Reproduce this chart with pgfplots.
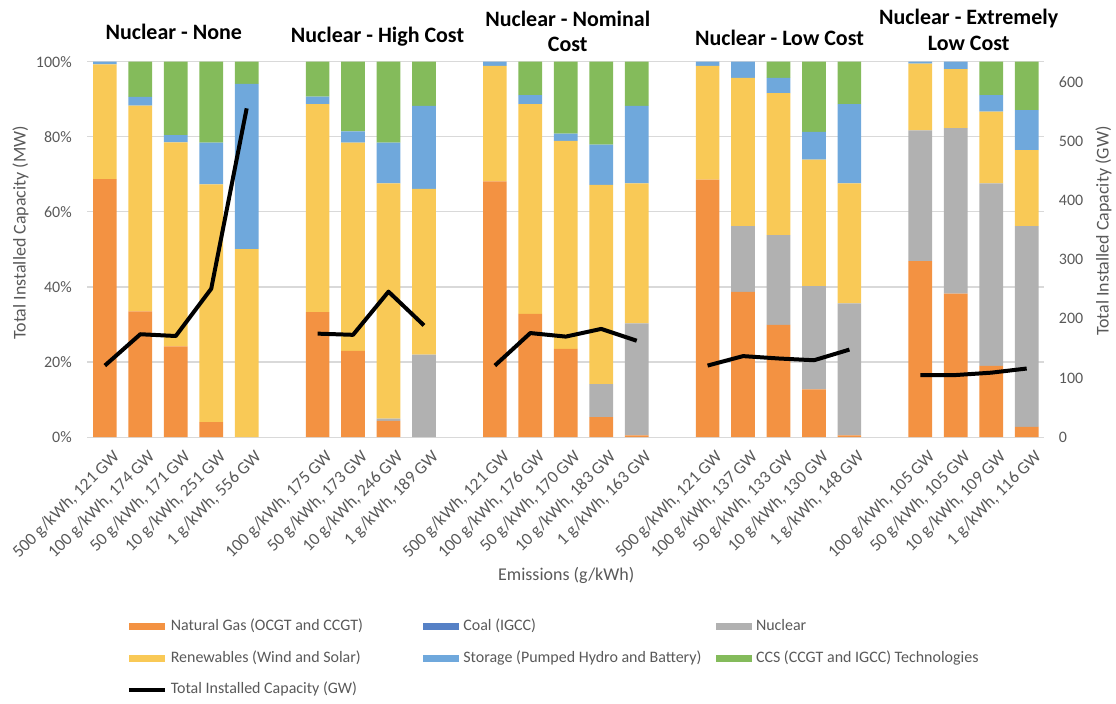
\documentclass[border=0pt]{standalone}
\usepackage{fontspec}
\setmainfont{Carlito}
\usepackage{pgfplots}
\usepackage{pgfplotstable}
\pgfplotsset{compat=1.18}

\definecolor{cNG}{HTML}{F39242}
\definecolor{cCoal}{HTML}{5681C6}
\definecolor{cNuc}{HTML}{B1B1B1}
\definecolor{cRen}{HTML}{F9C956}
\definecolor{cSto}{HTML}{6FA8DC}
\definecolor{cCCS}{HTML}{84BB5B}
\definecolor{txt}{HTML}{595959}
\definecolor{gridc}{HTML}{D9D9D9}

% share of installed capacity (%), x = slot on the axis (gaps between groups)
\pgfplotstableread{
x  ng   coal nuc  ren  sto  ccs
0  68.7 0 0    30.6 0.7  0
1  33.5 0 0    54.8 2.3  9.4
2  24.2 0 0    54.3 1.9  19.6
3  4.0  0 0    63.3 11.1 21.6
4  0    0 0    50.1 44.0 5.9
6  33.3 0 0    55.4 2.0  9.3
7  23.0 0 0    55.4 3.0  18.6
8  4.3  0 0.6  62.7 10.8 21.6
9  0    0 22.0 44.1 22.1 11.8
11 68.1 0 0    30.8 1.1  0
12 32.8 0 0    55.9 2.4  8.9
13 23.5 0 0    55.4 1.9  19.2
14 5.3  0 8.8  53.1 10.7 22.1
15 0.5  0 29.8 37.3 20.6 11.8
17 68.6 0 0    30.3 1.1  0
18 38.7 0 17.5 39.5 4.3  0
19 29.9 0 23.9 37.8 4.1  4.3
20 12.7 0 27.5 33.7 7.4  18.7
21 0.5  0 35.1 32.0 21.1 11.3
23 46.9 0 34.8 17.8 0.5  0
24 38.2 0 44.1 15.7 2.0  0
25 19.0 0 48.6 19.1 4.4  8.9
26 2.7  0 53.5 20.2 10.7 12.9
}\shares

% total installed capacity (GW), nan breaks the line between groups
\pgfplotstableread{
x  tot
0  121
1  174
2  171
3  251
4  556
5  nan
6  175
7  173
8  246
9  189
10 nan
11 121
12 176
13 170
14 183
15 163
16 nan
17 121
18 137
19 133
20 130
21 148
22 nan
23 105
24 105
25 109
26 116
}\totals

\pgfplotsset{
  sw/.style={legend image code/.code={\path[##1,draw=none] (0pt,-2.6pt) rectangle (27pt,2.6pt);}},
  lw/.style={legend image code/.code={\draw[##1] (0pt,0pt) -- (27pt,0pt);}},
}

\begin{document}
\begin{tikzpicture}
% page = 1116 x 704 px at 0.75pt per px, axis box lower left at px (87.25, 437.7)
\begin{scope}[x=0.75pt,y=-0.75pt,shift={(-65.44pt,328.28pt)}]
  \path[use as bounding box] (0,0) rectangle (1116,704);
\end{scope}

\begin{axis}[
  width=718.9pt, height=282pt, scale only axis,
  ybar stacked, bar width=0.667,
  xmin=-0.5, xmax=26.5, ymin=0, ymax=100,
  axis line style={draw=none},
  major tick length=0pt,
  ymajorgrids, grid style={gridc, line width=0.9pt},
  ytick={0,20,40,60,80,100},
  yticklabels={0\%,20\%,40\%,60\%,80\%,100\%},
  yticklabel style={inner sep=0pt, xshift=-11.4pt, text=txt, font=\fontsize{12}{14}\selectfont},
  xtick={0,1,2,3,4,6,7,8,9,11,12,13,14,15,17,18,19,20,21,23,24,25,26},
  xticklabels={
    {500 g/kWh, 121 GW},{100 g/kWh, 174 GW},{50 g/kWh, 171 GW},{10 g/kWh, 251 GW},{1 g/kWh, 556 GW},
    {100 g/kWh, 175 GW},{50 g/kWh, 173 GW},{10 g/kWh, 246 GW},{1 g/kWh, 189 GW},
    {500 g/kWh, 121 GW},{100 g/kWh, 176 GW},{50 g/kWh, 170 GW},{10 g/kWh, 183 GW},{1 g/kWh, 163 GW},
    {500 g/kWh, 121 GW},{100 g/kWh, 137 GW},{50 g/kWh, 133 GW},{10 g/kWh, 130 GW},{1 g/kWh, 148 GW},
    {100 g/kWh, 105 GW},{50 g/kWh, 105 GW},{10 g/kWh, 109 GW},{1 g/kWh, 116 GW}},
  xticklabel style={rotate=45, anchor=east, inner sep=0pt, xshift=-2.5pt, yshift=-15.5pt, text=txt, font=\fontsize{13}{15}\selectfont},
  legend columns=3,
  legend style={draw=none, fill=none, inner sep=0pt, outer sep=0pt,
    at={(0.04147,-0.4840)}, anchor=north west,
    font=\fontsize{12}{14}\selectfont, text=txt,
    nodes={inner sep=0pt, text height=9pt, text depth=3pt},
    cells={anchor=west}, row sep=11.6pt, column sep=0pt,
    /tikz/every odd column/.append style={column sep=3pt}},
]
\addplot+[fill=cNG, draw=none, sw] table[x=x,y=ng]{\shares};
\addlegendentry{\makebox[189.75pt][l]{Natural Gas (OCGT and CCGT)}}
\addplot+[fill=cCoal, draw=none, sw] table[x=x,y=coal]{\shares};
\addlegendentry{\makebox[189.75pt][l]{Coal (IGCC)}}
\addplot+[fill=cNuc, draw=none, sw] table[x=x,y=nuc]{\shares};
\addlegendentry{Nuclear}
\addplot+[fill=cRen, draw=none, sw] table[x=x,y=ren]{\shares};
\addlegendentry{\makebox[189.75pt][l]{Renewables (Wind and Solar)}}
\addplot+[fill=cSto, draw=none, sw] table[x=x,y=sto]{\shares};
\addlegendentry{\makebox[189.75pt][l]{Storage (Pumped Hydro and Battery)}}
\addplot+[fill=cCCS, draw=none, sw] table[x=x,y=ccs]{\shares};
\addlegendentry{CCS (CCGT and IGCC) Technologies}
\addlegendimage{black, line width=3pt, lw}
\addlegendentry{Total Installed Capacity (GW)}
\end{axis}

\begin{axis}[
  width=718.9pt, height=282pt, scale only axis,
  xmin=-0.5, xmax=26.5, ymin=0, ymax=635,
  axis x line=none, axis y line*=right,
  axis line style={draw=none},
  major tick length=0pt,
  ytick={0,100,200,300,400,500,600},
  yticklabels={0,100,200,300,400,500,600},
  yticklabel style={inner sep=0pt, xshift=10.7pt, text=txt, font=\fontsize{12}{14}\selectfont},
  unbounded coords=jump,
]
\addplot[black, line width=3pt, line join=round, mark=none] table[x=x,y=tot]{\totals};
\end{axis}

\begin{scope}[x=0.75pt,y=-0.75pt,shift={(-65.44pt,328.28pt)}]
  \begin{scope}[font=\bfseries\fontsize{16.5}{19}\selectfont, align=center]
    \node at (174,32.3) {Nuclear - None};
    \node at (378,36.7) {Nuclear - High Cost};
    \node at (568.5,31.5) {Nuclear - Nominal\\Cost};
    \node at (780.5,37.5) {Nuclear - Low Cost};
    \node at (970,30) {Nuclear - Extremely\\Low Cost};
  \end{scope}
  \begin{scope}[font=\fontsize{13.5}{16}\selectfont, text=txt]
    \node[rotate=90] at (20.5,233) {Total Installed Capacity (MW)};
    \node[rotate=90] at (1105,231.5) {Total Installed Capacity (GW)};
    \node at (567,576.7) {Emissions (g/kWh)};
  \end{scope}
\end{scope}
\end{tikzpicture}
\end{document}
